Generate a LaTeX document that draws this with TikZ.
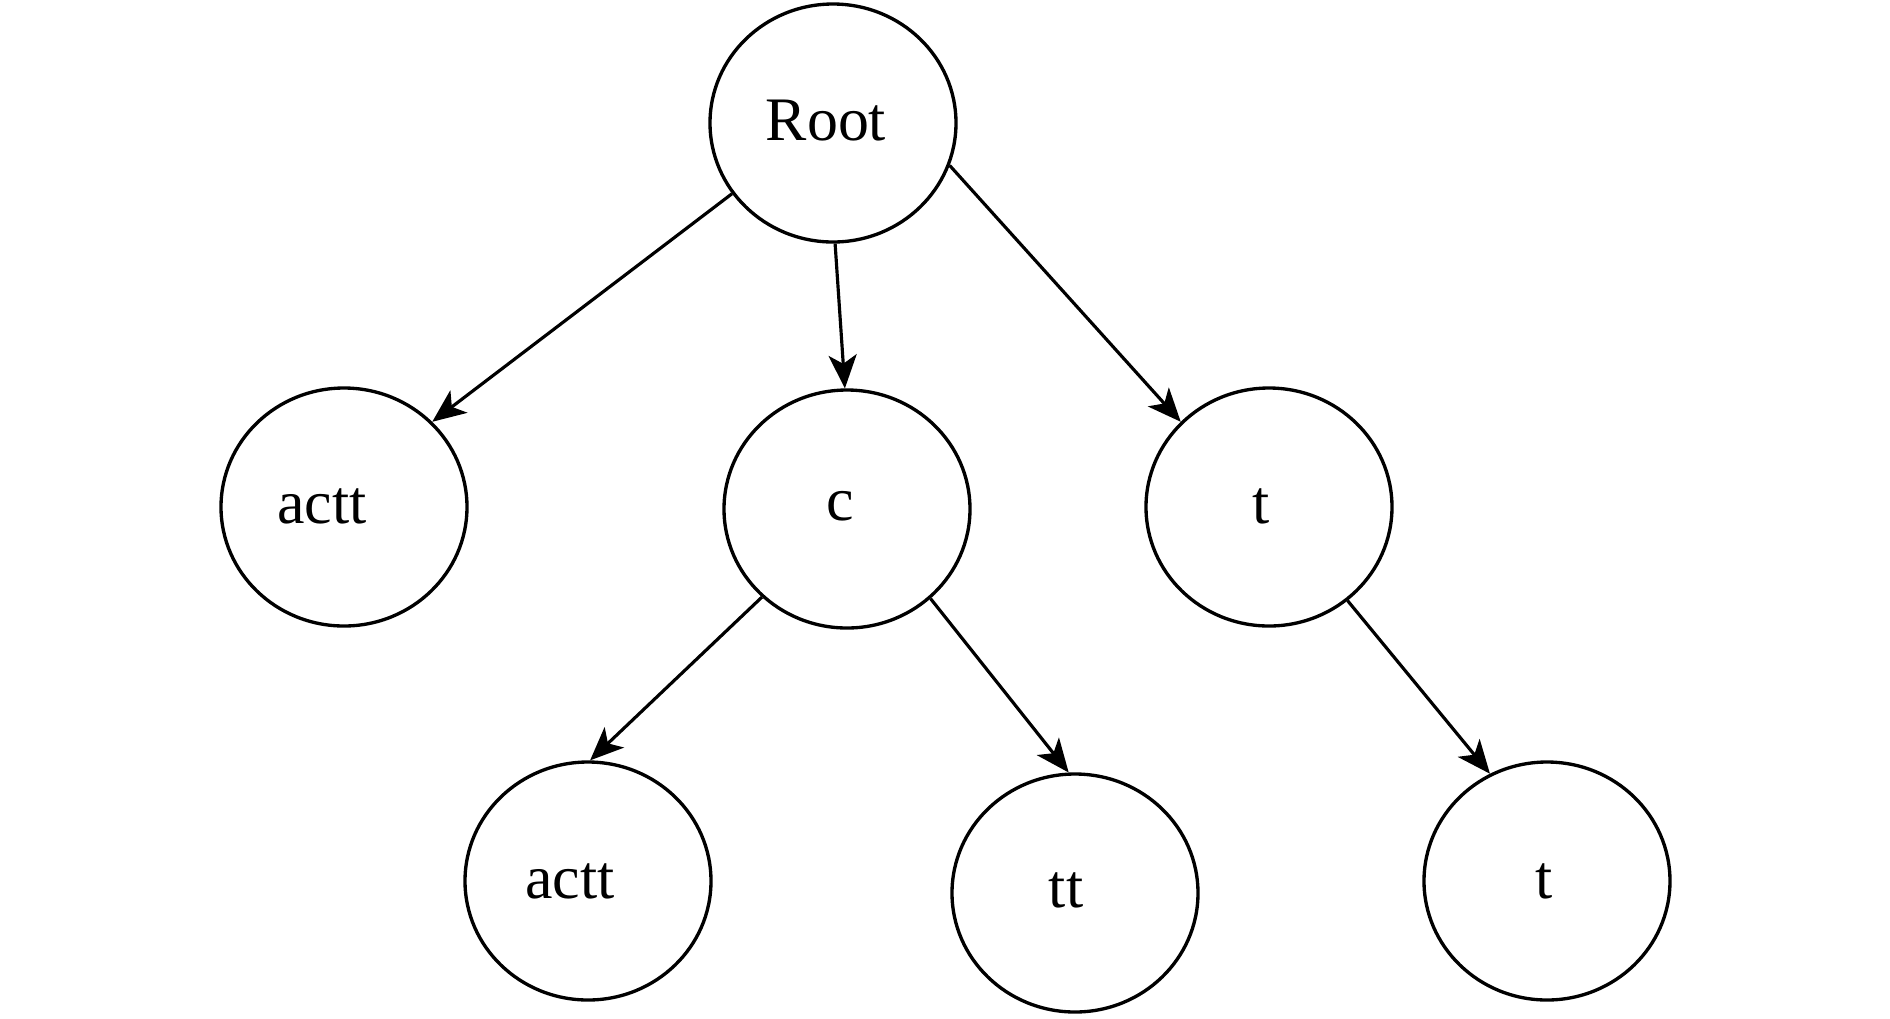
\documentclass[tikz,border=0pt]{standalone}
\usepackage{fontspec}
\setmainfont{Liberation Serif}
\usetikzlibrary{shapes.geometric,arrows.meta}
\tikzset{
  treenode/.style={ellipse,draw=black,line width=0.95pt,minimum width=2.46cm,minimum height=2.38cm,inner sep=0pt},
  lbl/.style={font=\fontsize{17.6}{20}\selectfont,inner sep=0pt},
  edge/.style={line width=0.9pt,-{Stealth[length=9.5pt,width=8pt,inset=2.5pt]}}
}
\begin{document}
\begin{tikzpicture}
\useasboundingbox (0,0) rectangle (18.9,-10.18);
\node[treenode] (root) at (8.33,-1.23) {};
\node[treenode] (a1) at (3.44,-5.07) {};
\node[treenode] (c) at (8.47,-5.09) {};
\node[treenode] (t1) at (12.69,-5.07) {};
\node[treenode] (a2) at (5.88,-8.81) {};
\node[treenode] (tt) at (10.75,-8.93) {};
\node[treenode] (t2) at (15.47,-8.81) {};
\node[lbl] (lroot) at (8.26,-1.21) {Root};
\node[lbl] (la1) at (3.22,-5.06) {actt};
\node[lbl] (lc) at (8.40,-5.06) {c};
\node[lbl] (lt1) at (12.61,-5.06) {t};
\node[lbl] (la2) at (5.70,-8.81) {actt};
\node[lbl] (ltt) at (10.66,-8.90) {tt};
\node[lbl] (lt2) at (15.44,-8.81) {t};
\draw[edge] (root.215.5) -- (a1.44);
\draw[edge] (root.271) -- (c.91);
\draw[edge] (root.340.6) -- (t1.136.6);
\draw[edge] (c.226) -- (a2.89);
\draw[edge] (c.313) -- (tt.93);
\draw[edge] (t1.310) -- (t2.118);
\end{tikzpicture}
\end{document}
